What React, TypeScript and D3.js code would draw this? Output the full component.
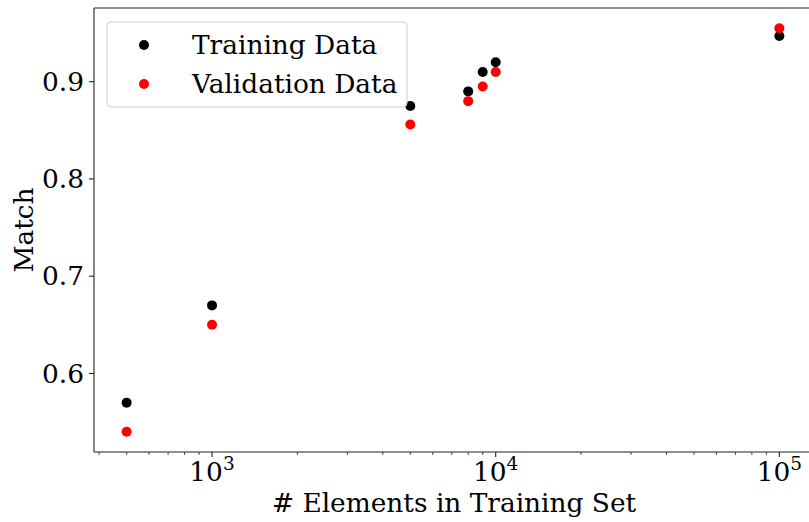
import React from "react";
import * as d3 from "d3";

const trainingSizes = [500, 1000, 5000, 8000, 9000, 10000, 100000];
const trainingMatch = [0.57, 0.67, 0.875, 0.89, 0.91, 0.92, 0.947];
const validationMatch = [0.54, 0.65, 0.856, 0.88, 0.895, 0.91, 0.955];
const yTicks = [0.6, 0.7, 0.8, 0.9];
const xDecades = [3, 4, 5];
const seriesNames = ["Training Data", "Validation Data"];
const seriesColors = ["#000000", "#ff0000"];

const W = 809;
const H = 522;
const left = 94;
const right = 812;
const top = 8;
const bottom = 452;
const FONT = "'DejaVu Serif', serif";
const FS = 26.4;

export default function App() {
  const lx = trainingSizes.map((v) => Math.log10(v));
  const allY = [...trainingMatch, ...validationMatch];
  const [x0, x1] = d3.extent(lx) as [number, number];
  const [y0, y1] = d3.extent(allY) as [number, number];
  const mx = (x1 - x0) * 0.05;
  const my = (y1 - y0) * 0.05;
  const x = d3.scaleLog().domain([Math.pow(10, x0 - mx), Math.pow(10, x1 + mx)]).range([left, right]);
  const y = d3.scaleLinear().domain([y0 - my, y1 + my]).range([bottom, top]);

  const minorTicks: number[] = [];
  const [dmin, dmax] = x.domain();
  for (let e = 2; e <= 5; e++) {
    for (let m = 2; m <= 9; m++) {
      const v = m * Math.pow(10, e);
      if (v >= dmin && v <= dmax) minorTicks.push(v);
    }
  }

  const series = [trainingMatch, validationMatch];

  return (
    <svg width={W} height={H} style={{ position: "absolute", left: 0, top: 0 }}>
      <rect width={W} height={H} fill="#fff" />
      {/* data points */}
      {series.map((vals, si) =>
        vals.map((v, i) => (
          <circle key={`${si}-${i}`} cx={x(trainingSizes[i])} cy={y(v)} r={5} fill={seriesColors[si]} />
        ))
      )}
      {/* spines */}
      <g stroke="#222" strokeWidth={1.1} fill="none">
        <line x1={left} y1={top} x2={left} y2={bottom} />
        <line x1={left} y1={bottom} x2={right} y2={bottom} />
        <line x1={left} y1={top} x2={right} y2={top} />
        <line x1={right} y1={top} x2={right} y2={bottom} />
      </g>
      {/* y ticks */}
      {yTicks.map((t) => (
        <g key={t}>
          <line x1={left - 5} x2={left} y1={y(t)} y2={y(t)} stroke="#222" strokeWidth={1.1} />
          <text x={left - 10} y={y(t)} dy="0.35em" textAnchor="end" fontFamily={FONT} fontSize={FS}>
            {t.toFixed(1)}
          </text>
        </g>
      ))}
      {/* x minor ticks */}
      {minorTicks.map((t) => (
        <line key={t} x1={x(t)} x2={x(t)} y1={bottom} y2={bottom + 3} stroke="#222" strokeWidth={0.8} />
      ))}
      {/* x major ticks */}
      {xDecades.map((e) => {
        const px = x(Math.pow(10, e));
        return (
          <g key={e}>
            <line x1={px} x2={px} y1={bottom} y2={bottom + 5} stroke="#222" strokeWidth={1.1} />
            <text x={px} y={bottom + 29} textAnchor="middle" fontFamily={FONT} fontSize={FS}>
              10
              <tspan fontSize={18.5} dy={-11}>{e}</tspan>
            </text>
          </g>
        );
      })}
      {/* axis labels */}
      <text x={454} y={512} textAnchor="middle" fontFamily={FONT} fontSize={FS}>
        # Elements in Training Set
      </text>
      <text
        transform={`translate(33, ${(top + bottom) / 2}) rotate(-90)`}
        textAnchor="middle"
        fontFamily={FONT}
        fontSize={FS}
      >
        Match
      </text>
      {/* legend */}
      <g>
        <rect x={107} y={22} width={300} height={85} rx={4} fill="#fff" fillOpacity={0.8} stroke="#ccc" strokeWidth={1} />
        {seriesNames.map((name, i) => (
          <g key={name}>
            <circle cx={144} cy={45 + i * 39} r={5} fill={seriesColors[i]} />
            <text x={192} y={45 + i * 39} dy="0.35em" fontFamily={FONT} fontSize={FS}>
              {name}
            </text>
          </g>
        ))}
      </g>
    </svg>
  );
}
